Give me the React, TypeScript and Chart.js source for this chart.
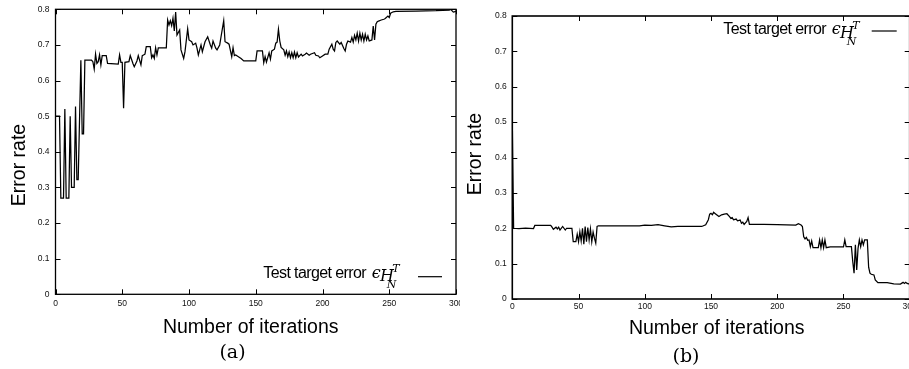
import React, { useEffect, useRef } from "react";
import { Chart, registerables } from "chart.js";

Chart.register(...registerables);

// ---------- data ----------
const xTickValues = [0, 50, 100, 150, 200, 250, 300];
const yTickValues = [0, 0.1, 0.2, 0.3, 0.4, 0.5, 0.6, 0.7, 0.8];

const xTitle = "Number of iterations";
const yTitle = "Error rate";
const legendLabel = "Test target error";
const captions = ["(a)", "(b)"];

// (a) iterations and error rate
const iterA = [
  0, 3, 4, 6, 7, 8, 10, 11, 12, 14, 15, 16, 17, 19, 20, 21, 22, 27, 28, 29,
  30, 31, 32, 33, 34, 35, 38, 39, 47, 48, 49, 50, 51, 52, 55, 56, 58, 59, 61, 62,
  64, 65, 67, 68, 71, 72, 73, 74, 75, 76, 77, 83, 84, 85, 86, 87, 88, 89, 90, 91,
  93, 94, 96, 97, 99, 100, 102, 103, 105, 106, 107, 109, 110, 112, 114, 116, 117, 118, 120, 121,
  123, 124, 126, 127, 129, 130, 132, 133, 134, 135, 137, 139, 141, 150, 151, 155, 156, 157, 158, 160,
  161, 162, 164, 165, 166, 167, 168, 169, 171, 172, 173, 174, 175, 176, 177, 178, 179, 180, 181, 182,
  184, 185, 187, 188, 190, 191, 194, 195, 197, 198, 200, 202, 204, 205, 207, 208, 209, 210, 211, 213,
  214, 216, 217, 218, 219, 221, 222, 223, 224, 225, 226, 227, 228, 229, 230, 231, 232, 233, 234, 235,
  237, 238, 239, 240, 241, 242, 244, 246, 247, 249, 250, 251, 253, 255, 270, 285, 295, 296, 298, 300,
];
const errA = [
  0.5, 0.5, 0.27, 0.27, 0.52, 0.27, 0.27, 0.5, 0.3, 0.3, 0.527, 0.322, 0.322, 0.657, 0.45, 0.45, 0.657, 0.657, 0.653, 0.632,
  0.674, 0.648, 0.653, 0.672, 0.644, 0.67, 0.67, 0.648, 0.646, 0.672, 0.651, 0.651, 0.522, 0.651, 0.653, 0.67, 0.648, 0.639, 0.655, 0.67,
  0.644, 0.67, 0.674, 0.695, 0.695, 0.664, 0.672, 0.662, 0.692, 0.672, 0.692, 0.692, 0.77, 0.756, 0.768, 0.754, 0.775, 0.739, 0.792, 0.728,
  0.742, 0.686, 0.662, 0.681, 0.745, 0.714, 0.709, 0.7, 0.705, 0.691, 0.672, 0.7, 0.681, 0.709, 0.723, 0.7, 0.691, 0.711, 0.691, 0.686,
  0.7, 0.723, 0.768, 0.709, 0.705, 0.702, 0.667, 0.692, 0.67, 0.672, 0.667, 0.662, 0.655, 0.655, 0.683, 0.683, 0.65, 0.667, 0.652, 0.678,
  0.66, 0.683, 0.688, 0.705, 0.708, 0.744, 0.711, 0.693, 0.686, 0.671, 0.683, 0.667, 0.68, 0.664, 0.678, 0.664, 0.68, 0.664, 0.678, 0.666,
  0.674, 0.669, 0.674, 0.677, 0.671, 0.674, 0.678, 0.671, 0.669, 0.664, 0.669, 0.674, 0.674, 0.688, 0.702, 0.688, 0.683, 0.707, 0.711, 0.702,
  0.707, 0.69, 0.683, 0.702, 0.711, 0.708, 0.721, 0.708, 0.727, 0.714, 0.733, 0.711, 0.733, 0.714, 0.73, 0.711, 0.73, 0.714, 0.725, 0.711,
  0.714, 0.753, 0.714, 0.758, 0.765, 0.767, 0.77, 0.772, 0.774, 0.781, 0.777, 0.789, 0.793, 0.794, 0.795, 0.796, 0.798, 0.8, 0.792, 0.794,
];

// (b) iterations and error rate
const iterB = [
  0, 1, 5, 10, 16, 17, 29, 30, 31, 33, 34, 35, 36, 38, 40, 41, 45, 46, 48, 49,
  50, 51, 52, 53, 54, 55, 56, 57, 58, 59, 60, 61, 62, 63, 64, 65, 96, 100, 105, 110,
  115, 120, 125, 143, 146, 148, 149, 150, 151, 152, 153, 155, 156, 158, 160, 162, 164, 165, 166, 167,
  169, 170, 172, 173, 174, 175, 177, 178, 179, 190, 200, 214, 216, 218, 219, 220, 221, 222, 223, 224,
  225, 226, 227, 231, 232, 233, 234, 235, 236, 237, 240, 250, 251, 252, 256, 257, 258, 259, 260, 261,
  262, 263, 264, 265, 266, 268, 269, 270, 271, 273, 274, 276, 283, 288, 293, 295, 296, 297, 298, 300,
];
const errB = [
  0.5, 0.2, 0.199, 0.2, 0.199, 0.208, 0.208, 0.203, 0.197, 0.203, 0.198, 0.203, 0.195, 0.205, 0.195, 0.2, 0.2, 0.162, 0.162, 0.183,
  0.162, 0.19, 0.164, 0.2, 0.155, 0.205, 0.162, 0.202, 0.167, 0.198, 0.162, 0.189, 0.172, 0.158, 0.205, 0.207, 0.207, 0.209, 0.208, 0.21,
  0.207, 0.204, 0.205, 0.205, 0.21, 0.224, 0.24, 0.242, 0.238, 0.245, 0.242, 0.236, 0.233, 0.238, 0.24, 0.241, 0.233, 0.228, 0.23, 0.224,
  0.226, 0.221, 0.223, 0.214, 0.217, 0.211, 0.219, 0.23, 0.211, 0.211, 0.21, 0.209, 0.213, 0.209, 0.205, 0.176, 0.17, 0.174, 0.166, 0.167,
  0.148, 0.164, 0.145, 0.145, 0.167, 0.145, 0.167, 0.145, 0.167, 0.145, 0.147, 0.147, 0.167, 0.148, 0.148, 0.106, 0.073, 0.153, 0.082, 0.143,
  0.167, 0.148, 0.167, 0.153, 0.167, 0.167, 0.09, 0.073, 0.07, 0.068, 0.054, 0.046, 0.046, 0.043, 0.042, 0.047, 0.044, 0.047, 0.044, 0.042,
];

// ---------- layout (canvas coordinates of decorations) ----------
type Decor = {
  caption: string;
  frameWidth: number;
  yTitleX: number; yTitleY: number;
  xTitleX: number; xTitleY: number;
  capX: number; capY: number;
  legX: number; legY: number;
  lineX1: number; lineX2: number; lineY: number;
};

const decorA: Decor = {
  caption: captions[0],
  frameWidth: 1.3,
  yTitleX: 25, yTitleY: 165,
  xTitleX: 250.7, xTitleY: 333,
  capX: 232.5, capY: 353,
  legX: 263.3, legY: 277.7,
  lineX1: 418, lineX2: 442, lineY: 276.7,
};
const decorB: Decor = {
  caption: captions[1],
  frameWidth: 1.6,
  yTitleX: 21, yTitleY: 154,
  xTitleX: 256.7, xTitleY: 334,
  capX: 226, capY: 357,
  legX: 263.3, legY: 34.3,
  lineX1: 411.7, lineX2: 436.7, lineY: 31,
};

const SANS = "'Liberation Sans', Arial, Helvetica, sans-serif";
const SERIF = "'DejaVu Serif', 'Liberation Serif', serif";

const decorPlugin = {
  id: "gnuDecor",
  afterDraw(chart: any, _args: any, opts: any) {
    const d: Decor = opts.decor;
    if (!d) return;
    const ctx: CanvasRenderingContext2D = chart.ctx;
    const { left, top, right, bottom } = chart.chartArea;
    const xs = chart.scales.x;
    const ys = chart.scales.y;
    ctx.save();
    // frame
    ctx.strokeStyle = "#000";
    ctx.lineWidth = d.frameWidth;
    ctx.strokeRect(left, top, right - left, bottom - top);
    // inward mirrored ticks
    ctx.lineWidth = 1;
    ctx.beginPath();
    xs.ticks.forEach((t: any) => {
      const p = Math.round(xs.getPixelForValue(t.value)) + 0.5;
      ctx.moveTo(p, bottom);
      ctx.lineTo(p, bottom - 5);
      ctx.moveTo(p, top);
      ctx.lineTo(p, top + 5);
    });
    ys.ticks.forEach((t: any) => {
      const p = Math.round(ys.getPixelForValue(t.value)) + 0.5;
      ctx.moveTo(left, p);
      ctx.lineTo(left + 5, p);
      ctx.moveTo(right, p);
      ctx.lineTo(right - 5, p);
    });
    ctx.stroke();

    ctx.fillStyle = "#000";
    // axis titles
    ctx.font = `19.5px ${SANS}`;
    ctx.textAlign = "center";
    ctx.textBaseline = "alphabetic";
    ctx.fillText(xTitle, d.xTitleX, d.xTitleY);
    ctx.save();
    ctx.translate(d.yTitleX, d.yTitleY);
    ctx.rotate(-Math.PI / 2);
    ctx.fillText(yTitle, 0, 0);
    ctx.restore();

    // caption
    ctx.font = `19px ${SERIF}`;
    ctx.textBaseline = "middle";
    ctx.fillText(d.caption, d.capX, d.capY);

    // legend
    ctx.textAlign = "left";
    ctx.textBaseline = "alphabetic";
    ctx.font = `16px ${SANS}`;
    (ctx as any).letterSpacing = "-0.6px";
    ctx.fillText(legendLabel, d.legX, d.legY);
    (ctx as any).letterSpacing = "0px";
    ctx.font = `italic 16px ${SERIF}`;
    ctx.fillText("\u03F5", d.legX + 108.4, d.legY);
    ctx.font = `italic 16px ${SERIF}`;
    ctx.fillText("H", d.legX + 116.7, d.legY + 3.5);
    ctx.font = `italic 11px ${SERIF}`;
    ctx.fillText("N", d.legX + 123.4, d.legY + 10.5);
    ctx.fillText("T", d.legX + 129, d.legY - 5.5);
    ctx.beginPath();
    ctx.lineWidth = 1.2;
    ctx.moveTo(d.lineX1, d.lineY);
    ctx.lineTo(d.lineX2, d.lineY);
    ctx.stroke();
    ctx.restore();
  },
};

type PanelProps = {
  iters: number[];
  errs: number[];
  decor: Decor;
  pad: { left: number; top: number; right: number; bottom: number };
  yWidth: number;
  xHeight: number;
  xLabelPad: number;
  yLabelPad: number;
  left: number;
};

function Panel(p: PanelProps) {
  const ref = useRef<HTMLCanvasElement | null>(null);
  useEffect(() => {
    if (!ref.current) return;
    const points = p.iters.map((x, i) => ({ x, y: p.errs[i] }));
    const chart = new Chart(ref.current, {
      type: "line",
      data: {
        datasets: [
          {
            label: legendLabel,
            data: points,
            borderColor: "#000",
            borderWidth: 1.25,
            pointRadius: 0,
            tension: 0,
            fill: false,
          },
        ],
      },
      options: {
        animation: false,
        responsive: false,
        devicePixelRatio: 1,
        layout: { padding: p.pad },
        plugins: {
          legend: { display: false },
          tooltip: { enabled: false },
          gnuDecor: { decor: p.decor },
        } as any,
        scales: {
          x: {
            type: "linear",
            min: 0,
            max: 300,
            afterBuildTicks: (s: any) => {
              s.ticks = xTickValues.map((v) => ({ value: v }));
            },
            afterFit: (s: any) => {
              s.height = p.xHeight;
              s.paddingLeft = 0;
              s.paddingRight = 0;
            },
            grid: { display: false, drawTicks: false },
            border: { display: false },
            ticks: {
              padding: p.xLabelPad,
              maxRotation: 0,
              autoSkip: false,
              color: "#111",
              font: { family: SANS, size: 8.5 },
            },
          },
          y: {
            type: "linear",
            min: 0,
            max: 0.8,
            afterBuildTicks: (s: any) => {
              s.ticks = yTickValues.map((v) => ({ value: v }));
            },
            afterFit: (s: any) => {
              s.width = p.yWidth;
              s.paddingTop = 0;
              s.paddingBottom = 0;
            },
            grid: { display: false, drawTicks: false },
            border: { display: false },
            ticks: {
              padding: p.yLabelPad,
              autoSkip: false,
              color: "#111",
              font: { family: SANS, size: 8.5 },
              callback: (v: any) => String(Math.round(Number(v) * 10) / 10),
            },
          },
        },
      },
      plugins: [decorPlugin],
    });
    return () => chart.destroy();
  }, []);
  return (
    <div style={{ position: "absolute", left: p.left, top: 0, width: 460, height: 369 }}>
      <canvas ref={ref} width={460} height={369} style={{ display: "block" }} />
    </div>
  );
}

export default function App() {
  return (
    <div
      style={{
        position: "fixed",
        left: 0,
        top: 0,
        width: 909,
        height: 369,
        overflow: "hidden",
        background: "#fff",
      }}
    >
      <Panel
        iters={iterA}
        errs={errA}
        decor={decorA}
        pad={{ left: 0, top: 9.3, right: 4, bottom: 0 }}
        yWidth={55.5}
        xHeight={74.7}
        xLabelPad={4}
        yLabelPad={6}
        left={0}
      />
      <Panel
        iters={iterB}
        errs={errB}
        decor={decorB}
        pad={{ left: 0, top: 16, right: 10.3, bottom: 0 }}
        yWidth={52.3}
        xHeight={70}
        xLabelPad={3}
        yLabelPad={5.5}
        left={460}
      />
    </div>
  );
}
